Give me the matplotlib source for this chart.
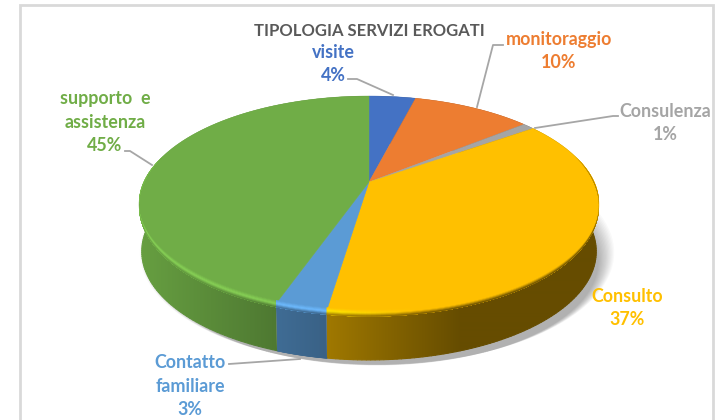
import numpy as np
import matplotlib
matplotlib.use('Agg')
import matplotlib.pyplot as plt
from matplotlib.collections import PolyCollection
from matplotlib.patches import Polygon

title = 'TIPOLOGIA SERVIZI EROGATI'
names = ['visite', 'monitoraggio', 'Consulenza', 'Consulto', 'Contatto\nfamiliare', 'supporto  e\nassistenza']
values = [4.0, 10.2, 1.0, 37.2, 3.0, 44.6]
colors = ['#4472C4', '#ED7D31', '#A5A5A5', '#FFC000', '#5B9BD5', '#70AD47']

plt.rcParams['font.family'] = ['Lato', 'DejaVu Sans']

# pie geometry in pixels, the axes is the whole picture
cx, cy = 369, 182
a, b, k = 225, 103.8, 0.2073
depth = 47


def project(theta, r=1.0):
    # theta clockwise from the top, circle seen in perspective
    u, v = r * np.sin(theta), r * np.cos(theta)
    w = 1 + k * v
    return cx + a * u / w, cy - b * v / w


def shade(x):
    return np.interp(x, [139, 275, 325, 400, 460, 600], [0.92, 0.70, 0.63, 0.50, 0.40, 0.40])


def mix(c1, c2, t):
    return tuple(np.array(c1) * (1 - t) + np.array(c2) * t)


fig = plt.figure(figsize=(7.21, 4.2), dpi=100)
ax = fig.add_axes([0, 0, 1, 1])

# frame of the chart, no bottom side in the screenshot
ax.plot([20, 20, 713, 713], [421, 5, 5, 421], color='#d9d9d9', lw=2, solid_joinstyle='miter', zorder=0)

# soft shadow
t_all = np.linspace(0, 2 * np.pi, 240)
for i in range(14):
    sx, sy = project(t_all, 1.0 + 0.005 * (i - 7))
    ax.fill(sx + 8, sy + depth + 5 + (7 - i) * 0.9, color='black', alpha=0.022, lw=0, zorder=0.5)

frac = np.cumsum([0] + values) / sum(values) * 2 * np.pi

# side wall, one gradient image per slice clipped to its outline
columns = np.arange(721) + 0.5
for i, col in enumerate(colors):
    base = np.array(matplotlib.colors.to_rgb(col))
    th = np.linspace(frac[i], frac[i + 1], 150)
    xs, ys = project(th)
    xb = cx + (xs - cx) * 0.988
    outline = np.column_stack([np.r_[xs, xb[::-1]], np.r_[ys, ys[::-1] + depth]])
    grad = (shade(columns)[:, None] * base)[None, :, :]
    im = ax.imshow(grad, extent=[0, 721, 420, 0], aspect='auto', interpolation='bilinear', zorder=1)
    im.set_clip_path(Polygon(outline, transform=ax.transData))
    # smooth the lower edge of the clipped image
    for j in range(0, len(th) - 1):
        c = tuple(base * shade((xb[j] + xb[j + 1]) / 2))
        ax.plot(xb[j:j + 2], ys[j:j + 2] + depth, color=c, lw=0.8, solid_capstyle='round', zorder=1.1)

ax.set_xlim(0, 721)
ax.set_ylim(420, 0)
ax.axis('off')

# top face
for i, col in enumerate(colors):
    th = np.linspace(frac[i], frac[i + 1], 120)
    xs, ys = project(th)
    ax.fill(np.r_[cx, xs], np.r_[cy, ys], color=col, lw=0.3, zorder=2)

# bevel on the front edge, bright on the left, dark on the right
rim_polys, rim_cols = [], []
n_rim = 8
for m in range(n_rim):
    s0 = -1 + 2 * m / n_rim
    sm = s0 + 1 / n_rim
    for i, col in enumerate(colors):
        base = matplotlib.colors.to_rgb(col)
        n = max(3, int((frac[i + 1] - frac[i]) / np.radians(1.0)))
        th = np.linspace(frac[i], frac[i + 1], n + 1)
        xs, ys = project(th)
        tk = 4.5 * np.clip(0.25 - np.cos(th), 0, 1) / 1.25
        for j in range(n):
            if tk[j] <= 0 and tk[j + 1] <= 0:
                continue
            e = min(j + 2, n)
            xm = (xs[j] + xs[j + 1]) / 2
            hf = np.interp(xm, [139, 330, 420, 600], [1.22, 1.2, 1.0, 1.0])
            high = tuple(np.clip(np.array(base) * hf, 0, 1))
            side = tuple(np.array(base) * shade(xm))
            c = mix(base, high, sm + 1) if sm < 0 else mix(high, side, sm)
            # each piece runs over the next one so no seam shows
            upper = ys[j:e + 1] + s0 * tk[j:e + 1]
            lower = ys[j:e + 1] + 1.0 * tk[j:e + 1]
            rim_polys.append(np.column_stack([np.r_[xs[j:e + 1], xs[j:e + 1][::-1]], np.r_[upper, lower[::-1]]]))
            rim_cols.append(c)

ax.add_collection(PolyCollection(rim_polys, facecolors=rim_cols, edgecolors='none', zorder=3))

# leader lines
leaders = [
    ([348, 357, 393], [79, 79, 95]),
    ([503, 493, 477], [45, 45, 107]),
    ([618, 613, 535], [116, 116, 128]),
    ([125, 130, 152], [151, 151, 165]),
    ([229, 300], [364, 359]),
]
for lx, ly in leaders:
    ax.plot(lx, ly, color='#a6a6a6', lw=1.3, zorder=4)

# labels
label_pos = [(333, 64), (559, 51), (665, 123), (627, 308), (190, 386), (105, 122)]
for name, v, col, (px, py) in zip(names, values, colors, label_pos):
    ax.text(px, py, f'{name}\n{v:.0f}%', color=col, fontsize=12.9, fontweight='bold',
            ha='center', va='center', linespacing=1.45, zorder=5)

ax.text(369, 31, title, color='#595959', fontsize=12, fontweight='bold', ha='center', va='center', zorder=5)

fig.savefig('out.png', dpi=100)
